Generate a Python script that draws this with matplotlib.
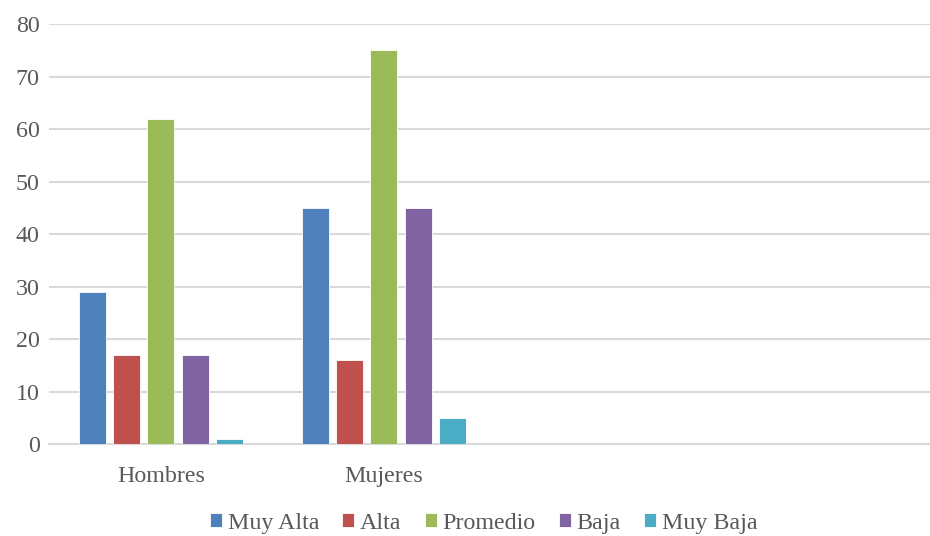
import numpy as np
import matplotlib.pyplot as plt

# categories (the last two are empty slots on the axis)
categorias = ['Hombres', 'Mujeres', '', '']
series = ['Muy Alta', 'Alta', 'Promedio', 'Baja', 'Muy Baja']
colores = ['#4f81bd', '#c0504d', '#9bbb59', '#8064a2', '#4bacc6']

muy_alta = [29, 45]
alta = [17, 16]
promedio = [62, 75]
baja = [17, 45]
muy_baja = [1, 5]
valores = [muy_alta, alta, promedio, baja, muy_baja]

plt.rcParams['font.family'] = ['Liberation Serif', 'DejaVu Serif']
gris = '#595959'

fig = plt.figure(figsize=(9.3, 5.36), dpi=100)
# plot area runs a little past the right edge of the figure
ax = fig.add_axes([0.0532, 0.1716, 0.959, 0.7836])

x = np.arange(len(categorias))
paso = 0.1536
ancho = 0.121
for i, (nombre, vals) in enumerate(zip(series, valores)):
    pos = x[:len(vals)] + (i - 2) * paso
    ax.bar(pos, vals, ancho, color=colores[i], edgecolor='white',
           linewidth=0.6, label=nombre, zorder=3)

ax.set_xlim(-0.5, len(categorias) - 0.5)
ax.set_ylim(0, 80)
ax.set_yticks(np.arange(0, 81, 10))
ax.set_xticks(x)
ax.set_xticklabels(categorias)
ax.yaxis.grid(True, color='#d9d9d9', linewidth=1.5, zorder=0)
for lado in ['top', 'right', 'left']:
    ax.spines[lado].set_visible(False)
ax.spines['bottom'].set_color('#d9d9d9')
ax.spines['bottom'].set_linewidth(1.5)
ax.tick_params(axis='both', length=0, colors=gris, labelsize=17.3)
ax.tick_params(axis='x', pad=16)
ax.tick_params(axis='y', pad=7)

leg = fig.legend(loc='center', bbox_to_anchor=(0.52, 0.024), ncol=5,
                 frameon=False, fontsize=17.3, handlelength=0.5,
                 handleheight=0.5, handletextpad=0.25, columnspacing=0.95,
                 borderpad=0.1)
for t in leg.get_texts():
    t.set_color(gris)

fig.savefig('out.png', dpi=100)
